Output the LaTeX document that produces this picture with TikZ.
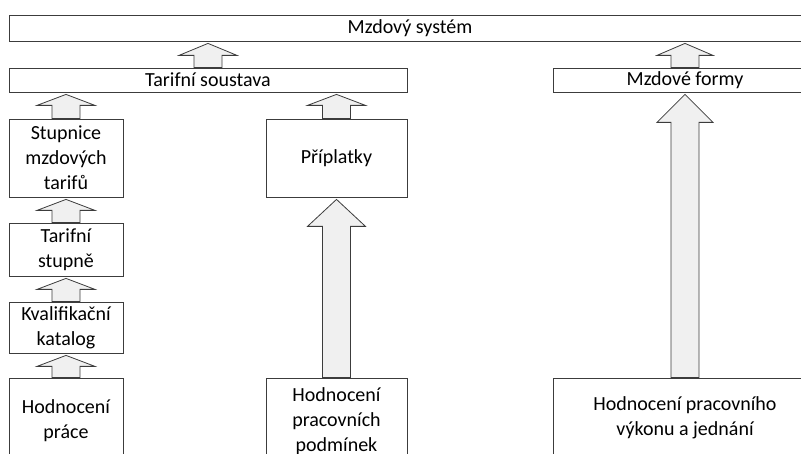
\documentclass[tikz,border=0pt]{standalone}
\usepackage{fontspec}
\setmainfont{Carlito}
\usepackage{tikz}
\usetikzlibrary{calc}

\definecolor{arrfill}{HTML}{F0F0F0}
\definecolor{edge}{HTML}{3C3C3C}

% block arrow from the top of #1 up to the bottom of #2
% #3 half shaft, #4 half head, #5 head length
\newcommand{\uparr}[5]{%
  \path let \p1=(#1.north), \p2=(#2.south) in
    [draw=edge, fill=arrfill, line width=0.8pt, line join=miter]
    (\x1-#3pt, \y1) -- (\x1-#3pt, \y2-2pt-#5pt) -- (\x1-#4pt, \y2-2pt-#5pt)
    -- (\x1, \y2-2pt) -- (\x1+#4pt, \y2-2pt-#5pt) -- (\x1+#3pt, \y2-2pt-#5pt)
    -- (\x1+#3pt, \y1) -- cycle;}

\begin{document}
\begin{tikzpicture}[x=1pt, y=-1pt,
    box/.style={draw=edge, fill=white, line width=0.8pt, rectangle, inner sep=0pt,
      align=center, font=\fontsize{20}{25}\selectfont}]
    \useasboundingbox (0, 0) rectangle (801, 454);
    \clip (0, 0) rectangle (801, 454);

    % top rows
    \node[box, minimum width=802, minimum height=26] (system) at (410, 28) {Mzdov\'y syst\'em};
    \node[box, minimum width=398, minimum height=24] (tarif) at (208, 80) {Tarifn\'i soustava};
    \node[box, minimum width=264, minimum height=24] (formy) at (685, 80) {Mzdov\'e formy};

    % left column
    \node[box, minimum width=114, minimum height=78] (stupnice) at (66, 158) {Stupnice\\mzdov\'ych\\tarif\r{u}};
    \node[box, minimum width=114, minimum height=53] (stupne) at (66, 249.5) {Tarifn\'i\\stupn\v{e}};
    \node[box, minimum width=114, minimum height=51] (katalog) at (66, 327.5) {Kvalifika\v{c}n\'i\\katalog};
    \node[box, minimum width=114, minimum height=86] (prace) at (66, 421) {Hodnocen\'i\\pr\'ace};

    % middle column
    \node[box, minimum width=141, minimum height=78] (priplatky) at (336.5, 158) {P\v{r}\'iplatky};
    \node[box, minimum width=141, minimum height=86] (podminky) at (336.5, 421) {Hodnocen\'i\\pracovn\'ich\\podm\'inek};

    % right column
    \node[box, minimum width=264, minimum height=80] (vykon) at (685, 418) {Hodnocen\'i pracovn\'iho\\v\'ykonu a jedn\'an\'i};

    % arrows
    \uparr{tarif}{system}{14}{29}{12}
    \uparr{formy}{system}{14}{28}{12}
    \uparr{stupnice}{tarif}{14}{29}{11}
    \uparr{priplatky}{tarif}{14}{29}{11}
    \uparr{stupne}{stupnice}{14}{29}{11}
    \uparr{katalog}{stupne}{14}{29}{11}
    \uparr{prace}{katalog}{14}{29}{11}
    \uparr{podminky}{priplatky}{14}{29}{27}
    \uparr{vykon}{formy}{14}{28}{28}
\end{tikzpicture}
\end{document}
